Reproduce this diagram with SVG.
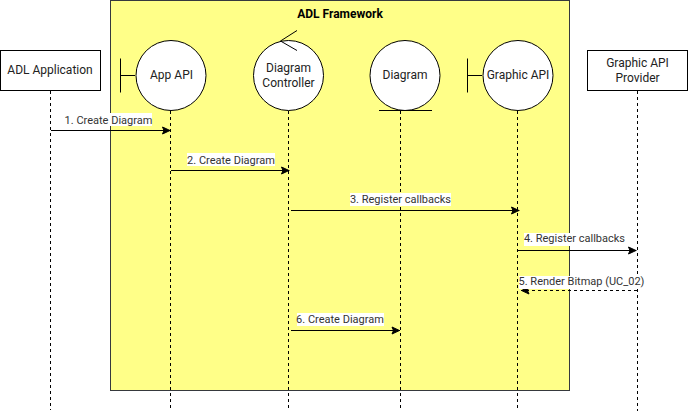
<svg xmlns="http://www.w3.org/2000/svg" width="688" height="412" viewBox="0 0 688 412">
<style>
text{font-family:Roboto,"Liberation Sans",sans-serif;fill:#222;text-anchor:middle}
.n{font-size:12px}
.l{font-size:11px;fill:#333}
.s{fill:#fff;stroke:#000;stroke-width:1}
.t{fill:none;stroke:#000;stroke-width:1}
.life{fill:none;stroke:#000;stroke-width:1;stroke-dasharray:3 3}
.m{fill:none;stroke:#000;stroke-width:1;marker-end:url(#a)}
.d{stroke-dasharray:3 3}
.bg{fill:#fff}
</style>
<defs><marker id="a" markerUnits="userSpaceOnUse" markerWidth="11" markerHeight="11" refX="9.500" refY="5.500" orient="auto"><path d="M1.500 2L9 5.500L1.500 9L3 5.500Z" fill="#000" stroke="#000" stroke-width="1"/></marker></defs>
<rect id="frame" x="110.500" y="0.500" width="459" height="390" fill="#ffff88" stroke="#36393d"/>
<text x="340" y="18" style="font-size:12px;font-weight:700;fill:#000">ADL Framework</text>
<g id="lifelines">
<path class="life" d="M50.500 91V410"/>
<path class="life" d="M170.500 111V409"/>
<path class="life" d="M288.500 111V408"/>
<path class="life" d="M400.500 111V408"/>
<path class="life" d="M517.500 111V409"/>
<path class="life" d="M637.500 91V411"/>
</g>
<g id="adl-application"><rect class="s" x="0.500" y="50.500" width="100" height="40"/><text class="n" x="50" y="74">ADL Application</text></g>
<g id="app-api"><path class="t" d="M120.500 58.500V92.500M120.500 75.500H135"/><circle class="s" cx="171" cy="75.500" r="35"/><text class="n" x="171.500" y="79">App API</text></g>
<g id="diagram-controller"><circle class="s" cx="288.500" cy="75.500" r="35"/><path class="t" d="M297 30.500L280.500 41L297 50.500"/><text class="n" x="288.500" y="72">Diagram</text><text class="n" x="288.500" y="87">Controller</text></g>
<g id="diagram"><circle class="s" cx="405" cy="75.500" r="35"/><path class="t" d="M379 110.500H432"/><text class="n" x="405" y="79">Diagram</text></g>
<g id="graphic-api"><path class="t" d="M467.500 58.500V92.500M467.500 75.500H482"/><circle class="s" cx="518" cy="75.500" r="35"/><text class="n" x="518" y="79">Graphic API</text></g>
<g id="graphic-api-provider"><rect class="s" x="587.500" y="50.500" width="100" height="40"/><text class="n" x="637.500" y="67">Graphic API</text><text class="n" x="637.500" y="82">Provider</text></g>
<g id="connectors">
<path class="m" d="M51 130.500H170.500"/>
<path class="m" d="M171 170.500H289.500"/>
<path class="m" d="M291 210.500H519.500"/>
<path class="m" d="M518 250.500H636.500"/>
<path class="m d" d="M637 290.500H521"/>
<path class="m" d="M291 330.500H400"/>
</g>
<g id="labels">
<rect class="bg" x="64" y="113" width="88" height="13"/><text class="l" x="108.500" y="124">1. Create Diagram</text>
<rect class="bg" x="187" y="153" width="88" height="13"/><text class="l" x="231" y="164">2. Create Diagram</text>
<rect class="bg" x="350" y="193" width="101" height="13"/><text class="l" x="400.500" y="203">3. Register callbacks</text>
<rect class="bg" x="524" y="233" width="101" height="13"/><text class="l" x="574.500" y="242">4. Register callbacks</text>
<rect class="bg" x="519" y="276" width="125" height="13"/><text class="l" x="581.500" y="285">5. Render Bitmap (UC_02)</text>
<rect class="bg" x="297" y="313" width="87" height="13"/><text class="l" x="340" y="323">6. Create Diagram</text>
</g>
</svg>
